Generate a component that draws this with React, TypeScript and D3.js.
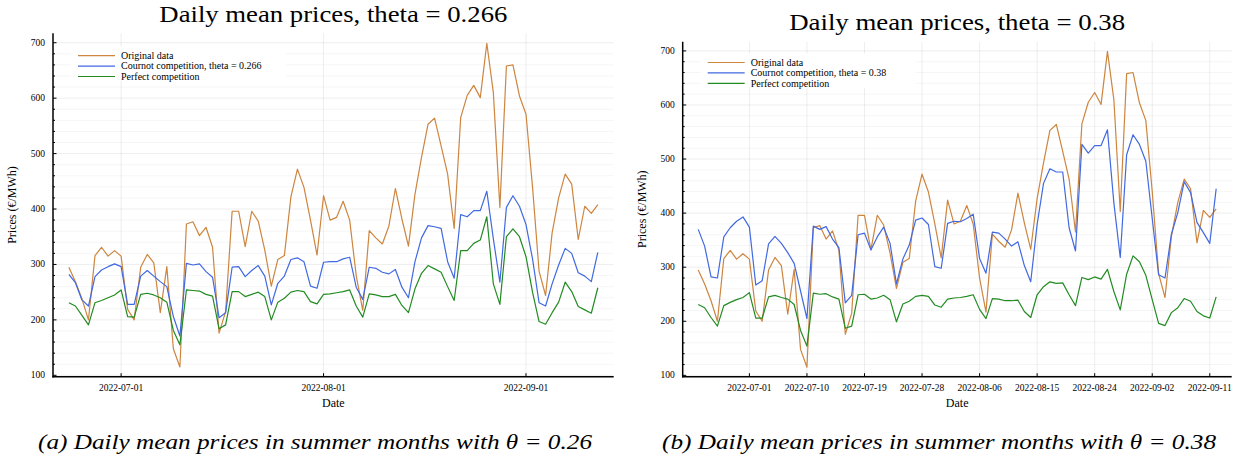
import React from "react";
import * as d3 from "d3";

// ---- Data (daily, starting 2022-06-23) ----
const startDate = "2022-06-23";
const original = [
  295, 269, 238, 200, 316, 331, 315, 325, 315, 219, 200, 295, 318, 303, 213, 296, 148, 115, 373, 377,
  352, 367, 331, 176, 215, 396, 396, 332, 396, 378, 326, 261, 309, 316, 422, 472, 439, 380, 317, 424,
  380, 385, 414, 380, 280, 217, 361, 348, 337, 369, 437, 382, 333, 427, 493, 553, 564, 514, 463, 365,
  565, 605, 623, 601, 699, 610, 403, 658, 660, 604, 571, 440, 288, 244, 357, 420, 463, 445, 345, 405,
  392, 408,
];
const cournotA = [
  282, 267, 236, 225, 278, 290, 296, 301, 296, 228, 228, 279, 289, 279, 269, 260, 206, 171, 302, 299,
  301, 287, 277, 204, 213, 295, 296, 278, 289, 298, 279, 227, 266, 279, 309, 312, 305, 261, 257, 304,
  305, 305, 310, 313, 259, 237, 295, 293, 286, 283, 291, 259, 240, 305, 348, 370, 368, 365, 305, 275,
  390, 386, 397, 397, 432, 346, 268, 403, 424, 405, 372, 310, 231, 225, 265, 299, 329, 320, 285, 279,
  269, 322,
];
const perfectA = [
  231, 225, 208, 191, 231, 235, 240, 245, 254, 206, 205, 246, 248, 245, 240, 232, 181, 155, 254, 253,
  252, 246, 243, 184, 191, 251, 251, 242, 246, 250, 242, 200, 232, 239, 250, 253, 251, 233, 229, 246,
  247, 249, 251, 254, 225, 205, 247, 245, 242, 242, 246, 226, 213, 256, 284, 298, 292, 286, 260, 235,
  325, 325, 338, 344, 386, 265, 228, 350, 364, 350, 314, 250, 197, 192, 213, 232, 268, 251, 224, 218,
  212, 258,
];
const cournotB = [
  370, 339, 282, 280, 356, 373, 385, 393, 374, 267, 275, 343, 357, 344, 327, 307, 256, 205, 376, 370,
  375, 352, 336, 234, 248, 360, 363, 332, 356, 374, 344, 269, 315, 341, 387, 391, 379, 301, 298, 381,
  385, 384, 390, 398, 316, 289, 365, 363, 352, 339, 347, 303, 273, 379, 455, 482, 476, 476, 373, 330,
  527, 511, 525, 525, 554, 419, 318, 508, 545, 527, 496, 390, 286, 280, 361, 401, 458, 438, 383, 364,
  344, 445,
];
const perfectB = [
  231, 225, 207, 191, 229, 235, 240, 244, 253, 206, 206, 245, 248, 244, 241, 231, 183, 154, 252, 250,
  251, 245, 241, 187, 191, 249, 250, 241, 243, 248, 240, 199, 232, 237, 246, 248, 246, 230, 226, 241,
  243, 244, 246, 249, 222, 205, 242, 241, 238, 238, 239, 218, 207, 249, 264, 273, 270, 271, 249, 229,
  281, 277, 282, 278, 296, 255, 221, 287, 321, 310, 285, 240, 196, 192, 216, 225, 242, 237, 218, 210,
  206, 245,
];
const yTicks = [100, 200, 300, 400, 500, 600, 700];
const xTicksA = ["2022-07-01", "2022-08-01", "2022-09-01"];
const xTicksB = [
  "2022-07-01", "2022-07-10", "2022-07-19", "2022-07-28", "2022-08-06",
  "2022-08-15", "2022-08-24", "2022-09-02", "2022-09-11",
];
const seriesNames = ["Original data", "Cournot competition, theta = ", "Perfect competition"];
const colors = ["#CD853F", "#4169E1", "#228B22"];

const FONT = "'Liberation Serif', 'Times New Roman', serif";
const parse = d3.utcParse("%Y-%m-%d");
const t0 = parse(startDate) as Date;
const dates = original.map((_, i) => d3.utcDay.offset(t0, i));

type PanelProps = {
  x0: number; x1: number; y0: number; y1: number;
  theta: string; cournot: number[]; perfect: number[]; xTicks: string[];
  title: string; titleY: number; titleW: number; caption: string; captionX: number; legendY: number;
};

function Panel(p: PanelProps) {
  const first = dates[0].getTime();
  const last = dates[dates.length - 1].getTime();
  const pad = (last - first) * 0.03;
  const x = d3.scaleUtc().domain([new Date(first - pad), new Date(last + pad)]).range([p.x0, p.x1]);
  const y = d3.scaleLinear().domain([97.5, 717]).range([p.y1, p.y0]);
  const line = d3.line<number>().x((_, i) => x(dates[i])).y((v) => y(v));
  const minor = d3.range(100, 717, 20);
  const series = [original, p.cournot, p.perfect];
  const cx = (p.x0 + p.x1) / 2;
  const lx = p.x0 + 25;
  const ly = p.legendY;
  return (
    <g>
      {/* grid */}
      {minor.map((v) => (
        <line key={"m" + v} x1={p.x0} x2={p.x1} y1={y(v)} y2={y(v)}
          stroke="#000" strokeOpacity={yTicks.includes(v) ? 0.09 : 0.05} strokeWidth={0.8} />
      ))}
      {p.xTicks.map((t) => (
        <line key={"g" + t} x1={x(parse(t) as Date)} x2={x(parse(t) as Date)} y1={p.y0} y2={p.y1}
          stroke="#000" strokeOpacity={0.09} strokeWidth={0.8} />
      ))}
      {/* series */}
      {series.map((s, k) => (
        <path key={"s" + k} d={line(s) || ""} fill="none" stroke={colors[k]} strokeWidth={1.2}
          strokeLinejoin="round" />
      ))}
      {/* axes */}
      <line x1={p.x0} x2={p.x0} y1={p.y0} y2={p.y1 + 0.8} stroke="#000" strokeWidth={1.5} />
      <line x1={p.x0 - 0.7} x2={p.x1} y1={p.y1} y2={p.y1} stroke="#000" strokeWidth={1.5} />
      {minor.map((v) => (
        <line key={"t" + v} x1={p.x0} x2={p.x0 + (yTicks.includes(v) ? 3.5 : 2)} y1={y(v)} y2={y(v)}
          stroke="#000" strokeWidth={1} />
      ))}
      {yTicks.map((v) => (
        <text key={"yl" + v} x={p.x0 - 8} y={y(v) + 3} textAnchor="end" fontSize={9.5}
          fontFamily={FONT}>{v}</text>
      ))}
      {p.xTicks.map((t) => (
        <g key={"xt" + t}>
          <line x1={x(parse(t) as Date)} x2={x(parse(t) as Date)} y1={p.y1} y2={p.y1 - 3.5}
            stroke="#000" strokeWidth={1} />
          <text x={x(parse(t) as Date)} y={p.y1 + 14} textAnchor="middle" fontSize={9.5}
            fontFamily={FONT}>{t}</text>
        </g>
      ))}
      <text x={cx} y={p.y1 + 30} textAnchor="middle" fontSize={12} fontFamily={FONT}>Date</text>
      <text transform={`translate(${p.x0 - 37},${(p.y0 + p.y1) / 2}) rotate(-90)`} textAnchor="middle"
        fontSize={12} fontFamily={FONT}>Prices (€/MWh)</text>
      {/* title */}
      <text x={cx} y={p.titleY} textAnchor="middle" fontSize={23} fontFamily={FONT}
        textLength={p.titleW} lengthAdjust="spacingAndGlyphs">{p.title}</text>
      {/* legend */}
      <rect x={lx - 7} y={ly - 9} width={215} height={34} fill="#fff" />
      {seriesNames.map((n, k) => (
        <g key={"lg" + k}>
          <line x1={lx} x2={lx + 37} y1={ly + k * 10.4} y2={ly + k * 10.4} stroke={colors[k]}
            strokeWidth={1.2} />
          <text x={lx + 43} y={ly + k * 10.4 + 3.2} fontSize={10} fontFamily={FONT}>
            {k === 1 ? n + p.theta : n}
          </text>
        </g>
      ))}
      {/* caption */}
      <text x={p.captionX} y={449} textAnchor="middle" fontSize={22} fontStyle="italic" fontFamily={FONT}
        textLength={554} lengthAdjust="spacingAndGlyphs">
        {p.caption}
      </text>
    </g>
  );
}

export default function App() {
  return (
    <svg width={1242} height={461} style={{ position: "absolute", left: 0, top: 0, background: "#fff" }}>
      <rect width={1242} height={461} fill="#fff" />
      <Panel x0={53} x1={613.7} y0={33.3} y1={376.7} theta="0.266" cournot={cournotA} perfect={perfectA}
        xTicks={xTicksA} title="Daily mean prices, theta = 0.266" titleY={22} titleW={348}
        caption="(a) Daily mean prices in summer months with θ = 0.26" captionX={315} legendY={55.7} />
      <Panel x0={682.7} x1={1231.7} y0={41.7} y1={376.7} theta="0.38" cournot={cournotB} perfect={perfectB}
        xTicks={xTicksB} title="Daily mean prices, theta = 0.38" titleY={30} titleW={336}
        caption="(b) Daily mean prices in summer months with θ = 0.38" captionX={939} legendY={62.5} />
    </svg>
  );
}
